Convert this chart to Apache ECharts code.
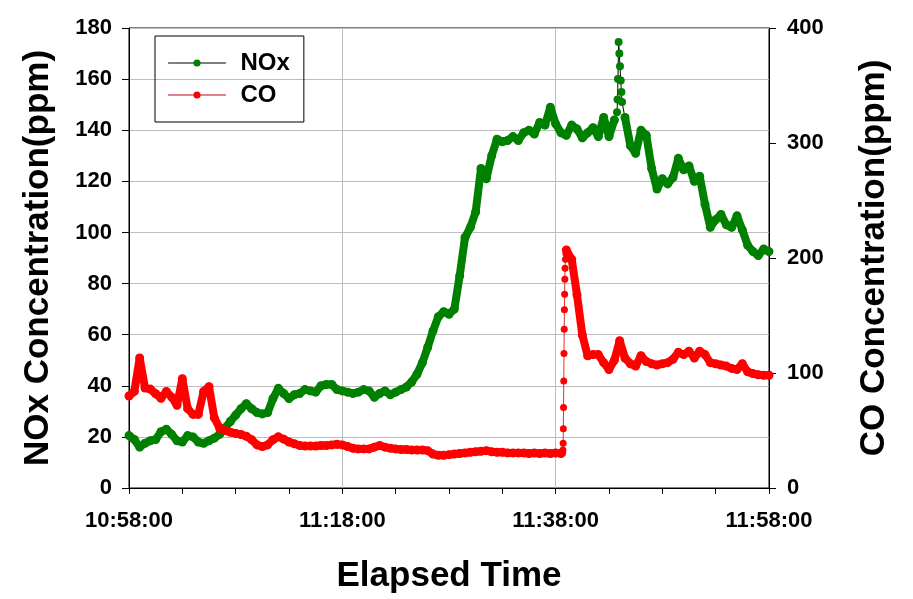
<!DOCTYPE html>
<html>
<head>
<meta charset="utf-8">
<script src="https://cdn.jsdelivr.net/npm/echarts@6/dist/echarts.min.js"></script>
<style>
html,body{margin:0;padding:0;background:#fff;}
#chart{width:913px;height:599px;}
</style>
</head>
<body>
<div id="chart"></div>
<script>
// Elapsed minutes from 10:58:00, base samples every 0.5 min
const startClock = [10, 58, 0];
const stepMin = 0.5;
const xTickLabels = ['10:58:00', '11:18:00', '11:38:00', '11:58:00'];

// NOx (ppm, left axis), sampled every 0.5 min; null = covered by noxSpike
const noxValues = [
  20.5, 19, 16, 17.5, 18.5, 19, 22, 23, 21, 18.5,
  18, 20.5, 20, 18, 17.5, 18.5, 19.5, 21, 23.5, 26,
  28.5, 31, 33, 31, 29.5, 29, 29.5, 35, 39, 37,
  35, 36.5, 37, 38.5, 38, 37.5, 40, 40.5, 40.5, 38.5,
  38, 37.5, 37, 37.5, 38.5, 38, 35.5, 37, 38, 36.5,
  37.5, 38.5, 39.5, 41.5, 44.5, 49, 55, 61.5, 67, 69,
  68, 70, 83, 98, 102, 108, 125, 121, 130, 136.5,
  135.5, 136, 137.5, 136, 139, 140, 138.5, 143, 142, 149,
  142.5, 139, 138, 142, 140.5, 137, 139, 141, 137.5, 145,
  137.5, 144, null, 145, 134, 131, 140, 138, 125, 117,
  121, 119, 121.5, 129, 124.5, 126, 120, 122, 111, 102,
  105, 107, 103, 102, 106.5, 101, 95, 92.5, 91, 93.5,
  92.5
];
// dense samples of the short NOx peak near 11:44
const noxSpikeWindow = [45.5, 46.5];
const noxSpike = [
  [45.75, 147], [45.8, 152], [45.84, 160], [45.9, 174.5],
  [45.97, 170], [46.03, 165], [46.1, 159.5], [46.16, 155],
  [46.22, 151]
];

// CO (ppm, right axis), sampled every 0.5 min
const coValues = [
  80, 84, 113, 87, 86, 82, 78, 84, 79, 72,
  95, 69, 64, 64, 84, 88, 61, 52, 50, 48.5,
  47.5, 46.5, 45, 42, 37.5, 36, 37.5, 42, 44.5, 42.5,
  40, 38.5, 37, 36.5, 36.5, 36.5, 37, 37, 37.5, 38,
  37.5, 36, 34.5, 34, 34, 34, 35.5, 37, 35.5, 34.5,
  34, 33.5, 33.5, 33, 33, 33, 32.5, 29.5, 28.5, 28.5,
  29, 29.5, 30, 30.5, 31, 31.5, 32, 32.5, 31.5, 31,
  31, 30.5, 30.5, 30.5, 30.5, 30, 30.5, 30, 30.5, 30,
  30.5, 30, 207, 199, 168, 133, 115, 116, 116, 109,
  103, 111, 128, 113, 108, 106, 115, 110, 108, 107,
  108, 109, 112, 118, 116, 119, 113, 119, 116, 109,
  108, 107, 106, 104, 103, 108, 101, 99.5, 98.5, 98,
  98
];
// dense samples of the fast CO rise near 11:38:45
const coSpikeWindow = [40.5, 41.0];
const coSpike = [
  [40.65, 30.5], [40.68, 33], [40.7, 39], [40.72, 51.5], [40.74, 70],
  [40.76, 93], [40.78, 117], [40.8, 138], [40.82, 155], [40.84, 168.5],
  [40.86, 181.5], [40.88, 191], [40.92, 199], [40.96, 204]
];

function mainData(values, win) {
  const out = [];
  let broke = false;
  values.forEach(function (v, i) {
    const t = i * stepMin;
    if (t > win[0] && t < win[1]) return;
    if (t >= win[1] && !broke) { out.push([(win[0] + win[1]) / 2, null]); broke = true; }
    out.push([t, v]);
  });
  return out;
}
function spikeData(values, win, spike) {
  const a = Math.round(win[0] / stepMin), b = Math.round(win[1] / stepMin);
  return [[win[0], values[a]]].concat(spike, [[win[1], values[b]]]);
}
function clock(min) {
  const s = startClock[0] * 3600 + startClock[1] * 60 + startClock[2] + Math.round(min * 60);
  const h = Math.floor(s / 3600), m = Math.floor(s % 3600 / 60), sec = s % 60;
  const p = function (n) { return (n < 10 ? '0' : '') + n; };
  return h + ':' + p(m) + ':' + p(sec);
}

const GREEN = '#008000', RED = '#ff0000';
const FONT = 'Liberation Sans, Arial, sans-serif';
const labelStyle = { color: '#000', fontSize: 22, fontWeight: 'bold', fontFamily: FONT };
const nameStyle = { color: '#000', fontSize: 35, fontWeight: 'bold', fontFamily: FONT };

const chart = echarts.init(document.getElementById('chart'), null, { renderer: 'canvas' });
chart.setOption({
  animation: false,
  backgroundColor: '#fff',
  grid: { left: 129, right: 144, top: 28, bottom: 110, show: true, borderColor: '#000', borderWidth: 1, backgroundColor: 'transparent' },
  legend: {
    orient: 'vertical', left: 155, top: 36,
    padding: [15, 14, 15, 13],
    borderColor: '#000', borderWidth: 1, borderRadius: 0,
    itemWidth: 57, itemHeight: 9, itemGap: 8,
    textStyle: { color: '#000', fontSize: 24, fontWeight: 'bold', fontFamily: FONT, lineHeight: 24, padding: [0, 0, 0, 10] },
    data: [
      { name: 'NOx', lineStyle: { color: '#000', width: 1 }, itemStyle: { color: GREEN } },
      { name: 'CO', lineStyle: { color: '#c00020', width: 1 }, itemStyle: { color: RED } }
    ]
  },
  xAxis: {
    type: 'value', min: 0, max: 60, interval: 20,
    name: 'Elapsed Time', nameLocation: 'middle', nameGap: 71, nameTextStyle: nameStyle,
    axisLine: { show: true, lineStyle: { color: '#000', width: 1 } },
    axisTick: { show: true, length: 6, lineStyle: { color: '#000' } },
    minorTick: { show: true, splitNumber: 4, length: 6, lineStyle: { color: '#000' } },
    splitLine: { show: true, lineStyle: { color: '#bdbdbd', width: 1 } },
    axisLabel: Object.assign({ margin: 22, formatter: function (v) { return xTickLabels[Math.round(v / 20)] || clock(v); } }, labelStyle)
  },
  yAxis: [
    {
      type: 'value', min: 0, max: 180, interval: 20, position: 'left',
      name: 'NOx Concentration(ppm)', nameLocation: 'middle', nameRotate: 90, nameGap: 73, nameTextStyle: nameStyle,
      axisLine: { show: true, lineStyle: { color: '#000', width: 1 } },
      axisTick: { show: true, length: 7, lineStyle: { color: '#000' } },
      splitLine: { show: true, lineStyle: { color: '#bdbdbd', width: 1 } },
      axisLabel: Object.assign({ margin: 17 }, labelStyle)
    },
    {
      type: 'value', min: 0, max: 400, interval: 100, position: 'right',
      name: 'CO Concentration(ppm)', nameLocation: 'middle', nameRotate: 90, nameGap: 88, nameTextStyle: nameStyle,
      axisLine: { show: true, lineStyle: { color: '#000', width: 1 } },
      axisTick: { show: true, length: 7, lineStyle: { color: '#000' } },
      splitLine: { show: false },
      axisLabel: Object.assign({ margin: 18 }, labelStyle)
    }
  ],
  series: [
    {
      name: 'NOx', type: 'line', yAxisIndex: 0, data: mainData(noxValues, noxSpikeWindow),
      symbol: 'circle', symbolSize: 9, showSymbol: true,
      itemStyle: { color: GREEN }, lineStyle: { color: GREEN, width: 8, cap: 'round', join: 'round' }, z: 2
    },
    {
      name: 'NOx peak', type: 'line', yAxisIndex: 0, data: spikeData(noxValues, noxSpikeWindow, noxSpike),
      symbol: 'circle', symbolSize: 8,
      itemStyle: { color: GREEN }, lineStyle: { color: '#000', width: 1 }, z: 2
    },
    {
      name: 'CO', type: 'line', yAxisIndex: 1, data: mainData(coValues, coSpikeWindow),
      symbol: 'circle', symbolSize: 9, showSymbol: true,
      itemStyle: { color: RED }, lineStyle: { color: RED, width: 8, cap: 'round', join: 'round' }, z: 3
    },
    {
      name: 'CO rise', type: 'line', yAxisIndex: 1, data: spikeData(coValues, coSpikeWindow, coSpike),
      symbol: 'circle', symbolSize: 7,
      itemStyle: { color: RED }, lineStyle: { color: '#e03030', width: 1 }, z: 3
    }
  ]
});
</script>
</body>
</html>
